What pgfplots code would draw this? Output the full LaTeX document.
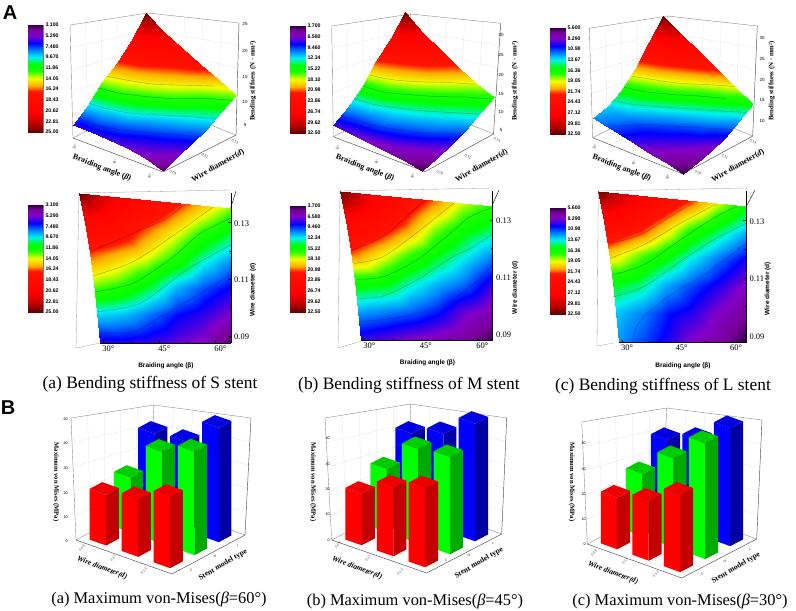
\documentclass[border=0pt]{standalone}
\usepackage{fontspec}
\setmainfont{Liberation Serif}
\setsansfont{Liberation Sans}
\usepackage{pgfplots}
\usepackage{pgfplotstable}
\pgfplotsset{compat=1.18}
\usetikzlibrary{calc}

\newcommand{\fs}[1]{\fontsize{#1}{#1}\selectfont}

\definecolor{barR}{RGB}{255,0,0}\definecolor{barRs}{RGB}{196,0,0}\definecolor{barRt}{RGB}{238,0,0}
\definecolor{barG}{RGB}{0,255,0}\definecolor{barGs}{RGB}{0,170,0}\definecolor{barGt}{RGB}{0,205,0}
\definecolor{barB}{RGB}{0,0,255}\definecolor{barBs}{RGB}{0,0,165}\definecolor{barBt}{RGB}{0,0,225}

\pgfplotsset{
  colormap={stent}{
    rgb255(0)=(45,0,70) rgb255(4)=(120,0,150) rgb255(10)=(130,0,200) rgb255(17)=(0,0,255)
    rgb255(23)=(0,120,255) rgb255(30)=(0,240,240) rgb255(37)=(0,255,0) rgb255(43)=(30,255,0)
    rgb255(50)=(240,255,0) rgb255(57)=(255,170,0) rgb255(62)=(255,20,0) rgb255(82)=(255,0,0)
    rgb255(92)=(190,0,0) rgb255(100)=(100,0,0)
  },
  colormap name=stent,
  surf3d/.style={hide axis,clip=false,anchor=south west,xmin=30,xmax=60,ymin=0.09,ymax=0.13},
  bar3d/.style={hide axis,clip=false,anchor=south west,xmin=0.5,xmax=3.5,ymin=0.5,ymax=3.5,zmin=0},
  mapaxis/.style={scale only axis,anchor=south west,clip=false,axis on top,
    xmin=23.5,xmax=64.1,ymin=0.0874,ymax=0.1403,
    axis x line*=bottom,axis y line*=right,x axis line style={draw=none},axis line style={-},
    tick align=inside,major tick length=3pt,minor tick length=2pt,tick style={black,line width=.4pt},
    xtick={30,45,60},xticklabels={30°,45°,60°},minor xtick={37.5,52.5},
    ytick={0.09,0.11,0.13},yticklabels={0.09,0.11,0.13},minor ytick={0.10,0.12},
    ticklabel style={font=\fs{8.5}},xticklabel style={xshift=5pt,yshift=1pt},
    yticklabel style={yshift=-1pt},
    xlabel={\sffamily\bfseries\fs{6.5}Braiding angle (β)},
    ylabel={\sffamily\bfseries\fs{6.5}Wire diameter (d)},
    xlabel style={at={(axis description cs:0.573,-0.151)},anchor=center},
    ylabel style={at={(axis description cs:1.147,0.355)},anchor=center},
  },
  iso/.style={smooth,draw=black,opacity=.3,line width=.45pt},
  rawsurf/.style={surf,shader=interp,mesh/rows=6,mesh/cols=6},
}

% beta, d: nominal grid of the 3D plots; mb, md: where the same node sits on the contour map
\pgfplotstableread{
b d mb md s m l
30 0.090 29.1 0.0874 6.3 7.6 12.2
36 0.090 36.1 0.0874 6.4 7.0 11.0
42 0.090 43.1 0.0874 6.1 6.3 9.6
48 0.090 50.1 0.0874 5.6 5.7 8.0
54 0.090 57.1 0.0874 5.0 5.0 7.0
60 0.090 64.1 0.0874 3.4 3.8 5.6
30 0.098 28.4 0.0980 9.5 11.1 13.1
36 0.098 35.5 0.0978 9.1 10.6 12.0
42 0.098 42.7 0.0976 8.1 9.9 10.4
48 0.098 49.8 0.0973 6.9 8.7 9.5
54 0.098 57.0 0.0971 6.2 6.8 8.0
60 0.098 64.1 0.0969 5.2 5.6 6.7
30 0.106 27.6 0.1086 13.4 15.3 15.8
36 0.106 34.9 0.1082 12.6 14.8 14.8
42 0.106 42.2 0.1078 11.1 12.9 12.7
48 0.106 49.5 0.1073 9.0 11.3 11.0
54 0.106 56.8 0.1069 7.7 9.9 9.6
60 0.106 64.1 0.1065 6.6 7.5 7.9
30 0.114 26.5 0.1192 16.4 21.4 20.5
36 0.114 34.0 0.1186 15.3 19.1 18.3
42 0.114 41.5 0.1179 14.1 16.5 16.2
48 0.114 49.1 0.1173 12.2 14.3 13.8
54 0.114 56.6 0.1166 9.9 12.3 11.7
60 0.114 64.1 0.1160 8.4 10.1 9.7
30 0.122 25.2 0.1297 20.0 26.5 26.5
36 0.122 33.0 0.1289 18.7 24.0 24.0
42 0.122 40.8 0.1280 16.5 20.9 20.8
48 0.122 48.5 0.1272 14.7 17.3 17.3
54 0.122 56.3 0.1263 12.4 14.8 14.9
60 0.122 64.1 0.1255 10.7 13.1 12.6
30 0.130 23.5 0.1403 25.0 32.5 32.5
36 0.130 31.6 0.1392 22.0 28.0 29.0
42 0.130 39.7 0.1382 19.8 24.5 26.0
48 0.130 47.9 0.1371 17.5 21.0 22.5
54 0.130 56.0 0.1361 15.3 17.8 19.0
60 0.130 64.1 0.1350 13.2 15.8 15.8
}\stiff

% colour scale beside each plot: x, bottom y, height, min, max, ticks, labels
\newcommand{\cbar}[7]{
  \begin{axis}[scale only axis,anchor=south west,at={(#1pt,-#2pt)},width=15pt,height=#3pt,
    xmin=0,xmax=1,ymin=#4,ymax=#5,y dir=reverse,xtick=\empty,
    ytick={#6},yticklabels={#7},ytick pos=right,yticklabel pos=right,major tick length=0pt,
    yticklabel style={font=\sffamily\bfseries\fs{5.2},xshift=-1pt},
    axis line style={draw=gray,line width=.3pt},point meta min=#4,point meta max=#5]
    \addplot[surf,shader=interp,mesh/rows=2,mesh/cols=2,point meta=y] coordinates {(0,#4)(1,#4)(0,#5)(1,#5)};
  \end{axis}
}

% walls of a 3D plot: LT LB BT BB RT RB FB
\newcommand{\walls}[7]{
  \begin{scope}[x=1pt,y=-1pt]
    \foreach \t in {.2,.4,.6,.8}{
      \draw[black!12,line width=.25pt] ($#1!\t!#3$)--($#2!\t!#4$);
      \draw[black!12,line width=.25pt] ($#3!\t!#5$)--($#4!\t!#6$);
      \draw[black!12,line width=.25pt] ($#1!\t!#2$)--($#3!\t!#4$)--($#5!\t!#6$);
      \draw[black!12,line width=.25pt] ($#2!\t!#7$)--($#4!\t!#6$);
      \draw[black!12,line width=.25pt] ($#2!\t!#4$)--($#7!\t!#6$);
    }
    \draw[black!45,line width=.4pt] #2--#1--#3--#5 #3--#4 #2--#4--#6;
    \draw[black!70,line width=.45pt] #5--#6--#7--#2;
  \end{scope}
}

\newcommand{\tbar}[4]{
  \pgfmathsetmacro\xa{#1-.26}\pgfmathsetmacro\xb{#1+.26}
  \pgfmathsetmacro\ya{#2-.26}\pgfmathsetmacro\yb{#2+.26}
  \addplot3[fill=#4,draw=none] coordinates {(\xa,\ya,0)(\xb,\ya,0)(\xb,\ya,#3)(\xa,\ya,#3)} -- cycle;
  \addplot3[fill=#4s,draw=none] coordinates {(\xb,\ya,0)(\xb,\yb,0)(\xb,\yb,#3)(\xb,\ya,#3)} -- cycle;
  \addplot3[fill=#4t,draw=none] coordinates {(\xa,\ya,#3)(\xb,\ya,#3)(\xb,\yb,#3)(\xa,\yb,#3)} -- cycle;
}

\begin{document}
\begin{tikzpicture}
\useasboundingbox (0,0) rectangle (796pt,-611pt);

\walls{(70,25)}{(73,138)}{(148,13)}{(147,100)}{(239,23)}{(236,135)}{(163,172)}
\walls{(331.7,26)}{(333.3,136.7)}{(410.7,14)}{(408,99)}{(500.7,23.3)}{(493.5,134)}{(425,171.7)}
\walls{(589.3,28.3)}{(592.7,137.7)}{(667.3,16)}{(666,100)}{(757.3,26)}{(752.7,136)}{(682.7,174)}
\walls{(71,418)}{(76,540)}{(154,405)}{(149,501)}{(251,418)}{(245,535)}{(172,574)}
\walls{(325,418)}{(331.7,540)}{(410.7,404)}{(407,501)}{(506.7,418)}{(501.7,534)}{(426.7,573)}
\walls{(581.7,422)}{(587.3,544)}{(666.7,408)}{(662,505)}{(762,420)}{(756.7,539)}{(681.7,578)}

% ---- 3D surfaces
\begin{axis}[surf3d,at={(73pt,-172pt)},x={(3pt,-1.1333pt)},y={(1825pt,925pt)},z={(0pt,4pt)},
  zmin=3.1,zmax=25,point meta min=3.1,point meta max=25]
  \addplot3[rawsurf,point meta=\thisrow{s}] table[x=b,y=d,z=s] {\stiff};
  \addplot3[iso] coordinates {(30,0.0928,7.4)(36,0.0930,7.4)(42,0.0952,7.4)(48,0.0999,7.4)(54,0.1044,7.4)(60,0.1096,7.4)};
  \addplot3[iso] coordinates {(30,0.0986,9.8)(36,0.0996,9.8)(42,0.1025,9.8)(48,0.1080,9.8)(54,0.1136,9.8)(60,0.1188,9.8)};
  \addplot3[iso] coordinates {(30,0.1040,12.4)(36,0.1056,12.4)(42,0.1095,12.4)(48,0.1146,12.4)(54,0.1220,12.4)(60,0.1274,12.4)};
  \addplot3[iso] coordinates {(30,0.1084,14.3)(36,0.1110,14.3)(42,0.1145,14.3)(48,0.1207,14.3)(54,0.1272,14.3)};
\end{axis}
\begin{axis}[surf3d,at={(333.3pt,-171.7pt)},x={(2.967pt,-1.1667pt)},y={(1800pt,950pt)},z={(0pt,3pt)},
  zmin=3.7,zmax=32.5,point meta min=3.7,point meta max=32.5]
  \addplot3[rawsurf,point meta=\thisrow{m}] table[x=b,y=d,z=m] {\stiff};
  \addplot3[iso] coordinates {(30,0.0941,9.4)(36,0.0953,9.4)(42,0.0969,9.4)(48,0.1002,9.4)(54,0.1047,9.4)(60,0.1118,9.4)};
  \addplot3[iso] coordinates {(30,0.1014,12.9)(36,0.1024,12.9)(42,0.1060,12.9)(48,0.1103,12.9)(54,0.1159,12.9)(60,0.1215,12.9)};
  \addplot3[iso] coordinates {(30,0.1063,15.5)(36,0.1073,15.5)(42,0.1118,15.5)(48,0.1172,15.5)(54,0.1239,15.5)(60,0.1291,15.5)};
  \addplot3[iso] coordinates {(30,0.1097,18.1)(36,0.1121,18.1)(42,0.1171,18.1)(48,0.1237,18.1)(54,0.1292,18.1)};
\end{axis}
\begin{axis}[surf3d,at={(592.7pt,-174pt)},x={(3pt,-1.2pt)},y={(1750pt,975pt)},z={(0pt,3.08pt)},
  zmin=5.6,zmax=32.5,point meta min=5.6,point meta max=32.5]
  \addplot3[rawsurf,point meta=\thisrow{l}] table[x=b,y=d,z=l] {\stiff};
  \addplot3[iso] coordinates {(36,0.0916,11.2)(42,0.1008,11.2)(48,0.1066,11.2)(54,0.1121,11.2)(60,0.1181,11.2)};
  \addplot3[iso] coordinates {(30,0.1012,14.2)(36,0.1043,14.2)(42,0.1094,14.2)(48,0.1149,14.2)(54,0.1202,14.2)(60,0.1260,14.2)};
  \addplot3[iso] coordinates {(30,0.1074,16.6)(36,0.1101,16.6)(42,0.1147,16.6)(48,0.1204,16.6)(54,0.1253,16.6)};
  \addplot3[iso] coordinates {(30,0.1114,19)(36,0.1148,19)(42,0.1187,19)(48,0.1246,19)(54,0.1300,19)};
\end{axis}

\cbar{28}{132}{107}{3.1}{25}{3.1,5.29,7.48,9.67,11.86,14.05,16.24,18.43,20.62,22.81,25}{3.100,5.290,7.480,9.670,11.86,14.05,16.24,18.43,20.62,22.81,25.00}
\cbar{290}{133}{107}{3.7}{32.5}{3.7,6.58,9.46,12.34,15.22,18.1,20.98,23.86,26.74,29.62,32.5}{3.700,6.580,9.460,12.34,15.22,18.10,20.98,23.86,26.74,29.62,32.50}
\cbar{550}{134}{106}{5.6}{32.5}{5.6,8.29,10.98,13.67,16.36,19.05,21.74,24.43,27.12,29.81,32.5}{5.600,8.290,10.98,13.67,16.36,19.05,21.74,24.43,27.12,29.81,32.50}
\cbar{28}{312}{107}{3.1}{25}{3.1,5.29,7.48,9.67,11.86,14.05,16.24,18.43,20.62,22.81,25}{3.100,5.290,7.480,9.670,11.86,14.05,16.24,18.43,20.62,22.81,25.00}
\cbar{290}{312}{106}{3.7}{32.5}{3.7,6.58,9.46,12.34,15.22,18.1,20.98,23.86,26.74,29.62,32.5}{3.700,6.580,9.460,12.34,15.22,18.10,20.98,23.86,26.74,29.62,32.50}
\cbar{550}{314}{106}{5.6}{32.5}{5.6,8.29,10.98,13.67,16.36,19.05,21.74,24.43,27.12,29.81,32.5}{5.600,8.290,10.98,13.67,16.36,19.05,21.74,24.43,27.12,29.81,32.50}

% ---- contour maps
\begin{axis}[mapaxis,at={(79pt,-343.3pt)},width=151.7pt,height=150pt,point meta min=3.1,point meta max=25]
  \addplot[rawsurf,point meta=\thisrow{s}] table[x=mb,y=md] {\stiff};
  \addplot[black,line width=.5pt] coordinates {(29.1,0.0874)(64.1,0.0874)};
  \addplot[iso] coordinates {(26.4,0.1197)(38.0,0.1262)(47.0,0.1315)(51.4,0.1362)};
  \addplot[iso] coordinates {(27.1,0.1111)(38.0,0.1162)(49.6,0.1262)(59.5,0.1356)};
  \addplot[iso] coordinates {(27.8,0.1056)(38.0,0.1086)(48.8,0.1180)(55.9,0.1262)(64.1,0.1315)};
  \addplot[iso] coordinates {(28.4,0.0986)(39.8,0.1015)(52.3,0.1133)(64.1,0.1221)};
  \addplot[iso] coordinates {(29.1,0.0912)(38.0,0.0915)(47.0,0.0980)(55.9,0.1050)(64.1,0.1115)};
\end{axis}
\begin{axis}[mapaxis,at={(340pt,-340.7pt)},width=152.7pt,height=149.7pt,point meta min=3.7,point meta max=32.5]
  \addplot[rawsurf,point meta=\thisrow{m}] table[x=mb,y=md] {\stiff};
  \addplot[black,line width=.5pt] coordinates {(29.1,0.0874)(64.1,0.0874)};
  \addplot[iso] coordinates {(26.6,0.1194)(35.0,0.1242)(42.1,0.1324)(46.1,0.1371)};
  \addplot[iso] coordinates {(27.2,0.1147)(35.0,0.1171)(44.8,0.1265)(54.1,0.1365)};
  \addplot[iso] coordinates {(27.9,0.1091)(35.0,0.1100)(43.9,0.1159)(52.8,0.1253)(58.1,0.1312)(64.1,0.1345)};
  \addplot[iso] coordinates {(28.4,0.1024)(35.0,0.1032)(43.9,0.1088)(52.8,0.1165)(59.0,0.1206)(64.1,0.1253)};
  \addplot[iso] coordinates {(29.0,0.0941)(40.3,0.0959)(51.0,0.1000)(59.8,0.1083)(64.1,0.1141)};
\end{axis}
\begin{axis}[mapaxis,at={(598.3pt,-342.7pt)},width=147.7pt,height=151.7pt,point meta min=5.6,point meta max=32.5]
  \addplot[rawsurf,point meta=\thisrow{l}] table[x=mb,y=md] {\stiff};
  \addplot[black,line width=.5pt] coordinates {(29.1,0.0874)(64.1,0.0874)};
  \addplot[iso] coordinates {(26.7,0.1220)(35.0,0.1250)(43.2,0.1313)(49.6,0.1362)};
  \addplot[iso] coordinates {(26.7,0.1168)(35.9,0.1215)(46.0,0.1290)(56.0,0.1358)};
  \addplot[iso] coordinates {(27.2,0.1110)(35.9,0.1145)(46.0,0.1232)(55.1,0.1308)(61.5,0.1348)};
  \addplot[iso] coordinates {(27.6,0.1034)(35.9,0.1069)(46.0,0.1157)(55.1,0.1232)(64.1,0.1290)};
  \addplot[iso] coordinates {(33.1,0.0874)(33.6,0.0918)(36.3,0.0970)(44.1,0.1046)(53.3,0.1116)(64.1,0.1221)};
\end{axis}

% ---- bars, back row first
\begin{axis}[bar3d,at={(76pt,-574pt)},x={(32pt,-11.33pt)},y={(24.33pt,13pt)},z={(0pt,2.45pt)},zmax=50]
  \tbar{1}{3}{35}{barB}\tbar{2}{3}{36.3}{barB}\tbar{3}{3}{46.7}{barB}
  \tbar{1}{2}{22.3}{barG}\tbar{2}{2}{37.6}{barG}\tbar{3}{2}{42.3}{barG}
  \tbar{1}{1}{20.7}{barR}\tbar{2}{1}{23.5}{barR}\tbar{3}{1}{29.1}{barR}
\end{axis}
\begin{axis}[bar3d,at={(331.7pt,-573pt)},x={(31.67pt,-11pt)},y={(25pt,13pt)},z={(0pt,2.54pt)},zmax=48]
  \tbar{1}{3}{33.7}{barB}\tbar{2}{3}{37.9}{barB}\tbar{3}{3}{46.3}{barB}
  \tbar{1}{2}{24.8}{barG}\tbar{2}{2}{37.1}{barG}\tbar{3}{2}{38.3}{barG}
  \tbar{1}{1}{20.3}{barR}\tbar{2}{1}{27.1}{barR}\tbar{3}{1}{31.1}{barR}
\end{axis}
\begin{axis}[bar3d,at={(587.3pt,-578pt)},x={(31.47pt,-11.43pt)},y={(25pt,13pt)},z={(0pt,2.52pt)},zmax=48]
  \tbar{1}{3}{33}{barB}\tbar{2}{3}{37.6}{barB}\tbar{3}{3}{46.8}{barB}
  \tbar{1}{2}{24.6}{barG}\tbar{2}{2}{35.5}{barG}\tbar{3}{2}{46}{barG}
  \tbar{1}{1}{20.5}{barR}\tbar{2}{1}{23.8}{barR}\tbar{3}{1}{30.7}{barR}
\end{axis}

% ---- texts
\begin{scope}[x=1pt,y=-1pt,every node/.style={inner sep=0pt,anchor=center}]
\node[font=\sffamily\bfseries\fs{20}] at (10,13) {A};
\node[font=\sffamily\bfseries\fs{20}] at (8,408) {B};

\foreach \px/\wx/\zx/\tx/\zl in {102/218/245/253/{25/24,20/51,15/77,10/102,5/125},
  365/481.7/501/515/{30/35,25/55,20/75,15/94,10/112,5/130},
  621.7/738/762/771.7/{30/38,25/59,20/80,15/100,10/121}}{
  \node[font=\bfseries\fs{8},rotate=-21] at (\px,168) {Braiding angle (\textit{β})};
  \node[font=\bfseries\fs{8},rotate=30] at (\wx,166) {Wire diameter(\textit{d})};
  \node[font=\bfseries\fs{6.8},rotate=90] at (\tx,81) {Bending stiffness (N · mm²)};
  \foreach \v/\y in \zl {\node[font=\sffamily\fs{4.5}] at (\zx,\y) {\v};}
}
\foreach \x/\y/\t in {75/147/30°,115/162/45°,150/176/60°,338/148/30°,377/162/45°,413/176/60°,595/147/30°,634/163/45°,668/177/60°}
  \node[font=\sffamily\fs{3.6},rotate=60,text=black!70] at (\x,\y) {\t};
\foreach \x/\y/\t in {173/173/0.09,205/156/0.11,235/142/0.13,440/173/0.09,468/157/0.11,497/140/0.13,698/173/0.09,725/157/0.11,753/142/0.13}
  \node[font=\sffamily\fs{3.6},rotate=-25,text=black!70] at (\x,\y) {\t};

% left wall and tilted end of the d axis on the contour maps
\draw[black!40,line width=.3pt] (79,193)--(76,348)--(100,343) (79,193)--(231,190);
\draw[black!40,line width=.3pt] (340,191)--(338,348)--(362,341) (340,191)--(493,188);
\draw[black!40,line width=.3pt] (598.3,191)--(597,346)--(614,343) (598.3,191)--(746,188);
\draw[black,line width=.4pt] (230.7,208)--(236,191);
\draw[black,line width=.4pt] (492.7,204)--(499,190);
\draw[black,line width=.4pt] (746,207)--(755,190);

\foreach \x/\y/\t in {150/384/(a) Bending stiffness of S stent,409/385/(b) Bending stiffness of M stent,663/386/(c) Bending stiffness of L stent}
  \node[font=\fs{17.4}] at (\x,\y) {\t};
\node[font=\fs{16.4}] at (159,599) {(a) Maximum von-Mises(\textit{β}=60°)};
\node[font=\fs{16.4}] at (415,601) {(b) Maximum von-Mises(\textit{β}=45°)};
\node[font=\fs{16.4}] at (680,601) {(c) Maximum von-Mises(\textit{β}=30°)};

\foreach \zx/\tx/\wx/\sx/\wy/\sy/\zl in {65/56/102/223/568/565/{0/540.7,10/516.7,20/493,30/468,40/443,50/419},
  327/313/357/479/568/563/{0/540,10/514.3,20/489.3,30/464,40/438.3},
  583/571.7/613/736/573/568/{0/544,10/518.7,20/494,30/469,40/443.3}}{
  \node[font=\bfseries\fs{6.6},rotate=-90] at (\tx,482) {Maximum von Mises (MPa)};
  \node[font=\bfseries\itshape\fs{7.6},rotate=-21] at (\wx,\wy) {Wire diameter(d)};
  \node[font=\bfseries\fs{7.6},rotate=30] at (\sx,\sy) {Stent model type};
  \foreach \v/\y in \zl {\node[font=\sffamily\fs{3.8},anchor=east] at (\zx+3,\y) {\v};}
}
\foreach \x/\y/\t in {82/548/0.09,113/558/0.11,144/571/0.13,338/545/0.09,368/558/0.11,400/572/0.13,594/553/0.09,625/561/0.11,656/574/0.13}
  \node[font=\sffamily\fs{3.4},rotate=45,text=black!70] at (\x,\y) {\t};
\foreach \x/\y/\t in {191/570/S,215/556/M,238/545/L,446/560/S,469/555/M,493/543/L,702/574/S,725/561/M,750/549/L}
  \node[font=\sffamily\fs{3.4},text=black!70] at (\x,\y) {\t};
\end{scope}
\end{tikzpicture}
\end{document}
